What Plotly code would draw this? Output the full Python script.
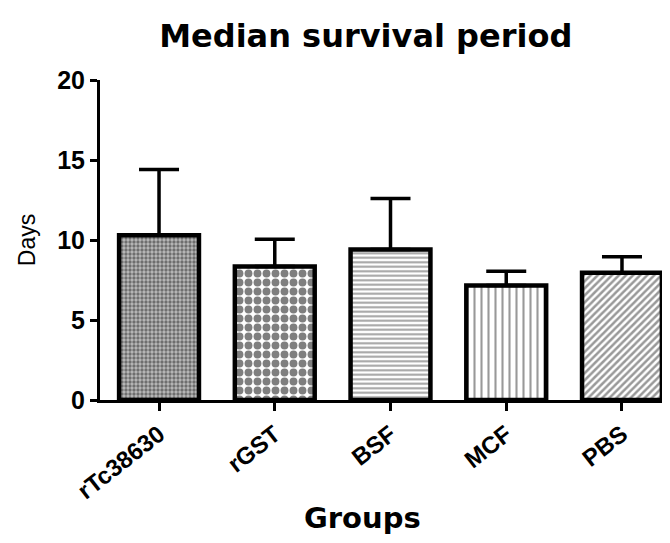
import plotly.graph_objects as go

groups = ["rTc38630", "rGST", "BSF", "MCF", "PBS"]
median_days = [10.3, 8.35, 9.4, 7.15, 7.95]
error_plus = [4.1, 1.7, 3.2, 0.9, 1.0]
y_ticks = [0, 5, 10, 15, 20]

patterns = [
    dict(shape=".", size=4, solidity=0.55, fgcolor="#222", bgcolor="#bbb"),
    dict(shape=".", size=9, solidity=0.6, fgcolor="black", bgcolor="white"),
    dict(shape="-", size=4.5, solidity=0.45, fgcolor="#444", bgcolor="white"),
    dict(shape="|", size=7, solidity=0.3, fgcolor="#333", bgcolor="white"),
    dict(shape="/", size=5, solidity=0.5, fgcolor="#333", bgcolor="white"),
]

fig = go.Figure()
for i, g in enumerate(groups):
    fig.add_trace(go.Bar(
        x=[g], y=[median_days[i]],
        width=0.69,
        marker=dict(color="white", line=dict(color="black", width=4.5), pattern=patterns[i]),
        error_y=dict(type="data", symmetric=False, array=[error_plus[i]], arrayminus=[0],
                     color="black", thickness=3.5, width=20),
        showlegend=False,
    ))

fig.update_layout(
    width=670, height=543,
    margin=dict(l=92, r=0, t=72, b=151),
    paper_bgcolor="white", plot_bgcolor="white",
    font=dict(family="Liberation Sans, Arial", color="black"),
    title=dict(text="<b>Median survival period</b>", x=0.534, xanchor="center",
               y=1 - 28 / 543, yanchor="middle",
               font=dict(size=32, family="DejaVu Sans")),
    annotations=[dict(
        text="<b>Groups</b>", xref="paper", yref="paper",
        x=0.455, y=-0.369, xanchor="center", yanchor="middle", showarrow=False,
        font=dict(size=29, family="DejaVu Sans"),
    )],
)
fig.update_xaxes(
    type="category", range=[-0.51, 4.484], automargin=False,
    showline=True, linecolor="black", linewidth=3,
    ticks="outside", ticklen=8, tickwidth=2.5, tickcolor="black",
    tickangle=-38, tickfont=dict(size=24),
    tickvals=groups, ticktext=[f"<b>{g}</b>" for g in groups],
    showgrid=False, zeroline=False,
)
fig.update_yaxes(
    range=[0, 20], tickvals=y_ticks, ticktext=[f"<b>{v}</b>" for v in y_ticks],
    automargin=False,
    showline=True, linecolor="black", linewidth=3,
    ticks="outside", ticklen=7, tickwidth=2.5, tickcolor="black",
    tickfont=dict(size=25),
    title=dict(text="Days", font=dict(size=23), standoff=16),
    showgrid=False, zeroline=False,
)

fig.write_html("out.html")
